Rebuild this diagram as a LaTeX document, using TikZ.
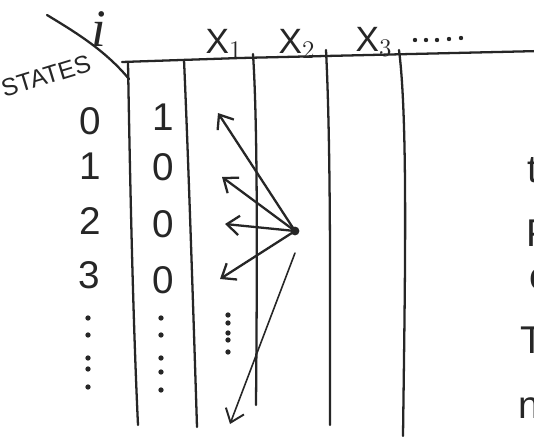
\documentclass[tikz,border=0pt]{standalone}
\usepackage{fontspec}
\setmainfont{Liberation Sans}
\newfontfamily\iletterfont{Liberation Serif}
\usetikzlibrary{arrows.meta}
\tikzset{
  pen/.style={line width=1.3pt, line cap=round, line join=round, black!85},
  thinpen/.style={line width=0.9pt, line cap=round, black!85},
  digit/.style={font=\fontsize{22}{24}\selectfont, text=black!85, inner sep=0pt},
  head/.style={font=\fontsize{20}{22}\selectfont, text=black!85, inner sep=0pt},
  edge/.style={font=\fontsize{22}{24}\selectfont, text=black!85, inner sep=0pt, anchor=west},
  arr/.style={pen, -{Straight Barb[length=7pt,width=11pt,line width=1.3pt]}},
  dotmark/.style={circle, fill=black!85, inner sep=0pt, minimum size=3pt},
}
\begin{document}
\begin{tikzpicture}[x=0.02cm, y=-0.02cm]
\useasboundingbox (0,0) rectangle (534,436);
\fill[white] (0,0) rectangle (534,436);
% frame
\coordinate (tl) at (122,62);
\coordinate (tr) at (540,51);
\draw[pen] (tl) -- (240,58) -- (tr);
\coordinate (dgA) at (47,15);
\coordinate (dgB) at (129,79);
\draw[pen] (dgA) .. controls (75,32) and (105,50) .. (dgB);
\draw[pen] (128,62) .. controls (130,180) and (133,320) .. (138,425);
\draw[pen] (184,60) .. controls (188,150) and (193,300) .. (197,427);
\draw[pen] (253,54) .. controls (258,130) and (257,280) .. (256,405);
\draw[pen] (326,50) .. controls (331,150) and (330,300) .. (330,425);
\draw[pen] (399,50) .. controls (408,120) and (405,280) .. (403,436);
% headings
\node[font=\iletterfont\itshape\fontsize{30}{32}\selectfont, text=black!85, inner sep=0pt] (ilab) at (99,29) {i};
\node[font=\fontsize{14}{16}\selectfont, text=black!85, rotate=17, inner sep=0pt] (states) at (46,76) {STATES};
\node[head] (x1) at (224,44) {X$_1$};
\node[head] (x2) at (297,44) {X$_2$};
\node[head] (x3) at (374,42) {X$_3$};
\foreach \x/\y [count=\k] in {415/40,426/40,437/40,449/39,461/38}
  \node[dotmark, minimum size=2.5pt] (hd\k) at (\x,\y) {};
% row labels
\node[digit] (r0) at (90,121) {0};
\node[digit] (r1) at (90,166) {1};
\node[digit] (r2) at (90,221) {2};
\node[digit] (r3) at (89,275) {3};
\foreach \y [count=\k] in {318,335,358,369,387}
  \node[dotmark] (rd\k) at (88,\y) {};
% first column values
\node[digit] (c0) at (163,117) {1};
\node[digit] (c1) at (163,167) {0};
\node[digit] (c2) at (163,224) {0};
\node[digit] (c3) at (163,280) {0};
\foreach \y [count=\k] in {318,335,358,372,390}
  \node[dotmark] (cd\k) at (161,\y) {};
% X1 column dots
\foreach \y [count=\k] in {315,323,333,340,352}
  \node[dotmark] (xd\k) at (228,\y) {};
% arrows from the point
\node[circle, fill=black!85, inner sep=0pt, minimum size=5pt] (src) at (295,231) {};
\coordinate (t0) at (218,113);
\coordinate (t1) at (222,177);
\coordinate (t2) at (225,224);
\coordinate (t3) at (220,279);
\draw[arr] (src.center) -- (t0);
\draw[arr] (src.center) -- (t1);
\draw[arr] (src.center) -- (t2);
\draw[arr] (src.center) -- (t3);
\coordinate (s4) at (295,253);
\coordinate (t4) at (230,424);
\draw[thinpen, -{Straight Barb[length=7pt,width=11pt,line width=1.1pt]}] (s4) -- (t4);
% cut-off text at right edge
\node[edge] (e1) at (527,170) {t};
\node[edge] (e2) at (526,233) {P};
\node[edge] (e3) at (529,279) {c};
\node[edge] (e4) at (520,340) {T};
\node[edge] (e5) at (518,408) {n};
\end{tikzpicture}
\end{document}
